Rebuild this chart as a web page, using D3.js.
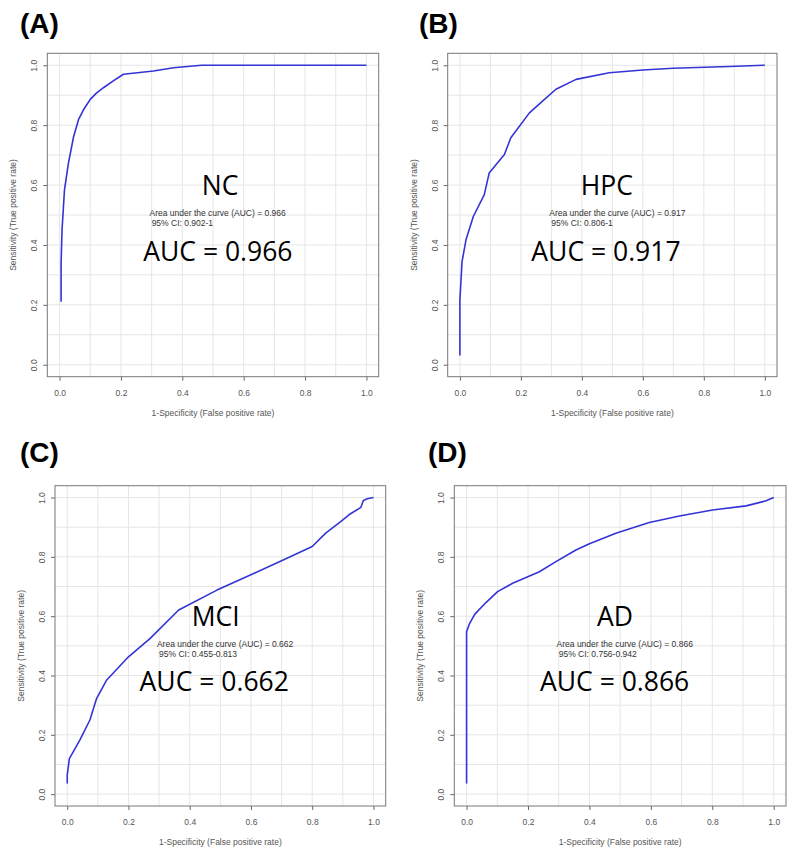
<!DOCTYPE html>
<html>
<head>
<meta charset="utf-8">
<script src="https://cdn.jsdelivr.net/npm/d3@7"></script>
<style>
  body { margin: 0; background: #fff; }
  svg { display: block; }
  .tick text { font-family: "Liberation Sans", Arial, sans-serif; font-size: 8.5px; fill: #555; }
</style>
</head>
<body>
<svg id="chart" width="791" height="856"></svg>
<script>
// ROC points (false positive rate, true positive rate)
const ncFpr = [0.005, 0.005, 0.008, 0.016, 0.029, 0.046, 0.062, 0.08, 0.1, 0.12, 0.143, 0.175, 0.208, 0.306, 0.371, 0.463, 1];
const ncTpr = [0.21, 0.34, 0.45, 0.584, 0.674, 0.763, 0.819, 0.855, 0.886, 0.907, 0.925, 0.948, 0.97, 0.981, 0.992, 1, 1];

const hpcFpr = [0, 0, 0.007, 0.02, 0.044, 0.08, 0.096, 0.146, 0.167, 0.228, 0.271, 0.315, 0.381, 0.49, 0.6, 0.698, 0.884, 1];
const hpcTpr = [0.031, 0.216, 0.344, 0.417, 0.495, 0.568, 0.64, 0.702, 0.758, 0.841, 0.88, 0.92, 0.953, 0.975, 0.984, 0.99, 0.996, 1];

const mciFpr = [0, 0, 0.007, 0.041, 0.074, 0.096, 0.129, 0.2, 0.271, 0.364, 0.489, 0.598, 0.707, 0.8, 0.844, 0.893, 0.92, 0.959, 0.967, 0.98, 1];
const mciTpr = [0.036, 0.064, 0.12, 0.182, 0.25, 0.323, 0.385, 0.463, 0.525, 0.621, 0.688, 0.739, 0.79, 0.835, 0.88, 0.919, 0.942, 0.967, 0.99, 0.996, 1];

const adFpr = [0, 0, 0.01, 0.027, 0.063, 0.101, 0.15, 0.237, 0.291, 0.356, 0.4, 0.486, 0.595, 0.693, 0.801, 0.91, 0.975, 1];
const adTpr = [0.036, 0.548, 0.576, 0.607, 0.646, 0.683, 0.711, 0.75, 0.784, 0.823, 0.844, 0.88, 0.916, 0.938, 0.958, 0.972, 0.989, 1];

const panelLetters = ['(A)', '(B)', '(C)', '(D)'];
const groupNames = ['NC', 'HPC', 'MCI', 'AD'];
const aucValues = ['0.966', '0.917', '0.662', '0.866'];
const ciValues = ['0.902-1', '0.806-1', '0.455-0.813', '0.756-0.942'];
const tickValues = [0, 0.2, 0.4, 0.6, 0.8, 1];
const gridValues = d3.range(0, 1.01, 0.1);

const curves = [
    { fpr: ncFpr, tpr: ncTpr },
    { fpr: hpcFpr, tpr: hpcTpr },
    { fpr: mciFpr, tpr: mciTpr },
    { fpr: adFpr, tpr: adTpr },
];

// plot frame of each panel, and where its letter and labels sit
const layout = [
    { left: 47.3, right: 378.7, top: 53.3, bottom: 376.7, letterX: 20, letterY: 33, nameX: 0.523, aucX: 0.516 },
    { left: 447.7, right: 777, top: 53.3, bottom: 376.7, letterX: 419, letterY: 33, nameX: 0.482, aucX: 0.479 },
    { left: 55, right: 385.7, top: 485.7, bottom: 806, letterX: 20, letterY: 462, nameX: 0.485, aucX: 0.48 },
    { left: 454.3, right: 786, top: 485.7, bottom: 806, letterX: 428, letterY: 462, nameX: 0.483, aucX: 0.482 },
];

const svg = d3.select('#chart');
svg.append('rect').attr('width', 791).attr('height', 856).attr('fill', '#fff');

const sans = '"Liberation Sans", Arial, sans-serif';

layout.forEach((p, i) => {
    const x = d3.scaleLinear().domain([-0.04, 1.04]).range([p.left, p.right]);
    const y = d3.scaleLinear().domain([-0.04, 1.04]).range([p.bottom, p.top]);
    const g = svg.append('g');

    g.append('text')
        .attr('x', p.letterX).attr('y', p.letterY)
        .style('font-family', sans).style('font-weight', 'bold')
        .style('font-size', '28px').attr('fill', '#000')
        .text(panelLetters[i]);

    // grid
    g.selectAll('.vgrid').data(gridValues).enter().append('line')
        .attr('x1', d => x(d)).attr('x2', d => x(d))
        .attr('y1', p.top).attr('y2', p.bottom)
        .attr('stroke', '#e6e6e6').attr('stroke-width', 1);
    g.selectAll('.hgrid').data(gridValues).enter().append('line')
        .attr('y1', d => y(d)).attr('y2', d => y(d))
        .attr('x1', p.left).attr('x2', p.right)
        .attr('stroke', '#e6e6e6').attr('stroke-width', 1);

    // axes
    g.append('g')
        .attr('transform', `translate(0,${p.bottom})`)
        .call(d3.axisBottom(x).tickValues(tickValues).tickFormat(d3.format('.1f')).tickSizeOuter(0).tickSize(4).tickPadding(9))
        .call(a => a.select('.domain').remove())
        .call(a => a.selectAll('.tick line').attr('stroke', '#666'));

    g.append('g')
        .attr('transform', `translate(${p.left},0)`)
        .call(d3.axisLeft(y).tickValues(tickValues).tickFormat(d3.format('.1f')).tickSizeOuter(0).tickSize(4).tickPadding(7))
        .call(a => a.select('.domain').remove())
        .call(a => a.selectAll('.tick line').attr('stroke', '#666'))
        .call(a => a.selectAll('.tick text')
            .attr('transform', 'rotate(-90)')
            .attr('x', 0).attr('y', -10).attr('dy', 0)
            .attr('text-anchor', 'middle'));

    g.append('rect')
        .attr('x', p.left).attr('y', p.top)
        .attr('width', p.right - p.left).attr('height', p.bottom - p.top)
        .attr('fill', 'none').attr('stroke', '#777').attr('stroke-width', 1);

    g.append('text')
        .attr('x', (x(0) + x(1)) / 2).attr('y', p.bottom + 39)
        .attr('text-anchor', 'middle')
        .style('font-family', sans).style('font-size', '8.5px').attr('fill', '#555')
        .text('1-Specificity (False positive rate)');

    g.append('text')
        .attr('transform', `translate(${p.left - 31},${(y(0) + y(1)) / 2}) rotate(-90)`)
        .attr('text-anchor', 'middle')
        .style('font-family', sans).style('font-size', '8.5px').attr('fill', '#555')
        .text('Sensitivity (True positive rate)');

    // curve
    const c = curves[i];
    const pts = c.fpr.map((f, k) => [f, c.tpr[k]]);
    g.append('path')
        .datum(pts)
        .attr('d', d3.line().x(d => x(d[0])).y(d => y(d[1])))
        .attr('fill', 'none').attr('stroke', '#3434d6').attr('stroke-width', 1.6)
        .attr('stroke-linejoin', 'round');

    // annotations
    g.append('text')
        .attr('x', x(p.nameX)).attr('y', y(0.567))
        .attr('text-anchor', 'middle')
        .style('font-family', '"Open Sans", sans-serif').style('font-size', '26.5px').attr('fill', '#000')
        .text(groupNames[i]);

    g.append('text')
        .attr('x', x(0.293)).attr('y', y(0.497))
        .style('font-family', sans).style('font-size', '8.5px').attr('fill', '#333')
        .text(`Area under the curve (AUC) = ${aucValues[i]}`);
    g.append('text')
        .attr('x', x(0.3)).attr('y', y(0.463))
        .style('font-family', sans).style('font-size', '8.5px').attr('fill', '#333')
        .text(`95% CI: ${ciValues[i]}`);

    g.append('text')
        .attr('x', x(p.aucX)).attr('y', y(0.348))
        .attr('text-anchor', 'middle')
        .style('font-family', '"Open Sans", sans-serif').style('font-size', '26.5px').attr('fill', '#000')
        .text(`AUC = ${aucValues[i]}`);
});
</script>
</body>
</html>
